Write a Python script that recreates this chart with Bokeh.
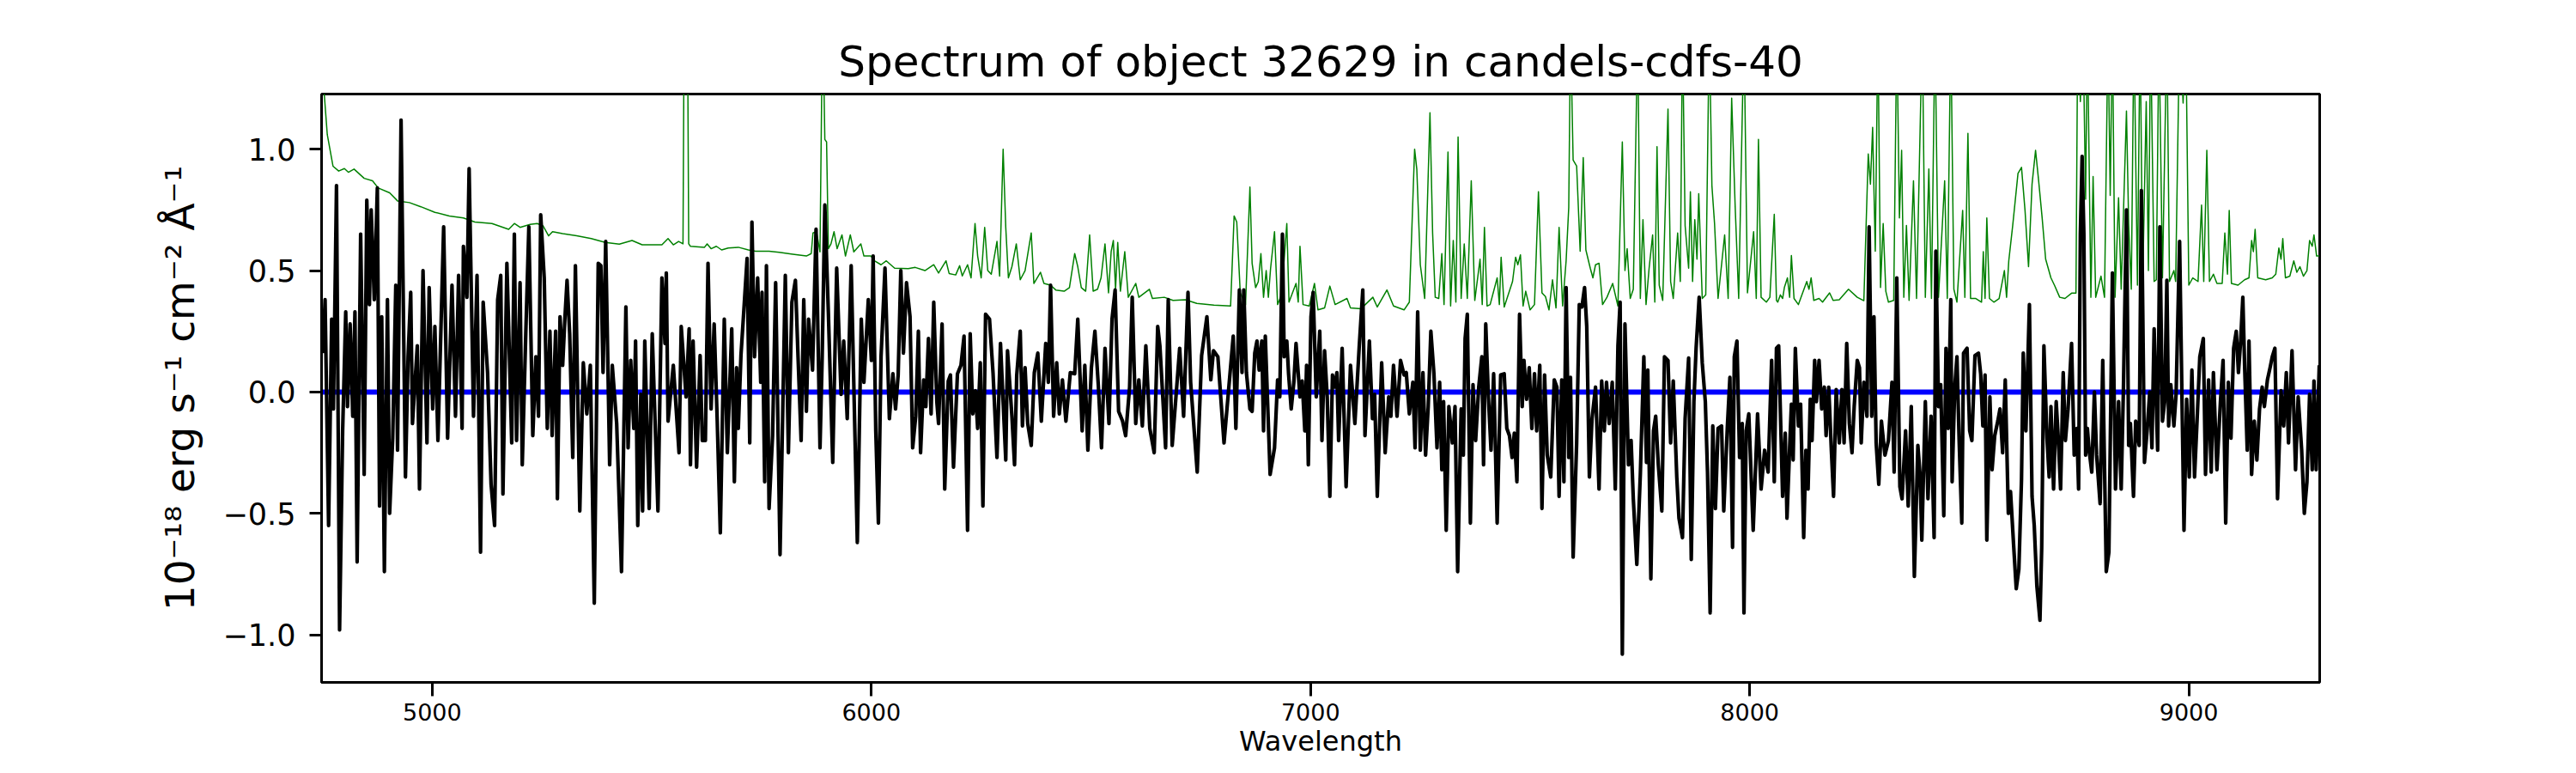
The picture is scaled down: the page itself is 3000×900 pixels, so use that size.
from bokeh.plotting import figure
from bokeh.models import ColumnDataSource, Span, FixedTicker, CustomJSTickFormatter, Range1d
from bokeh.embed import file_html
from bokeh.resources import INLINE

title_text = "Spectrum of object 32629 in candels-cdfs-40"
x_label = "Wavelength"
y_label = "10\u207b\u00b9\u2078 erg s\u207b\u00b9 cm\u207b\u00b2 \u00c5\u207b\u00b9"
x_ticks = [5000, 6000, 7000, 8000, 9000]
y_ticks = [-1.0, -0.5, 0.0, 0.5, 1.0]
x_limits = (4748, 9298)
y_limits = (-1.196, 1.227)
zero_level = 0.0

# object spectrum (black)
flux_points = [
(4751,0.16),(4756,0.38),(4764,-0.55),(4771,0.30),(4775,-0.07),(4782,0.85),(4789,-0.98),(4796,-0.16),(4803,0.33),(4807,-0.06),(4813,0.28),(4819,-0.10),(4824,0.33),(4829,-0.70),(4837,0.65),(4845,-0.34),(4851,0.79),(4857,0.36),(4861,0.75),(4868,0.38),(4875,0.84),(4880,-0.47),(4885,0.31),(4891,-0.74),(4898,0.38),(4903,-0.50),(4910,-0.19),(4917,0.44),(4921,-0.24),(4929,1.12),(4939,-0.35),(4945,0.145),(4951,0.41),(4955,-0.13),(4966,0.19),(4971,-0.40),(4979,0.50),(4988,-0.21),(4993,0.43),(5001,-0.07),(5006,0.27),(5013,-0.20),(5026,0.68),(5035,-0.19),(5045,0.44),(5053,-0.10),(5060,0.48),(5068,-0.15),(5071,0.60),(5079,0.39),(5084,0.92),(5094,-0.10),(5102,0.48),(5110,-0.66),(5116,0.37),(5126,0.08),(5134,-0.38),(5142,-0.55),(5149,0.38),(5156,0.48),(5161,-0.42),(5170,0.53),(5174,0.27),(5181,-0.21),(5187,0.65),(5192,-0.20),(5200,0.45),(5205,-0.30),(5213,0.24),(5220,0.68),(5229,-0.18),(5236,0.145),(5242,-0.10),(5247,0.73),(5255,0.47),(5262,-0.15),(5268,0.25),(5273,-0.18),(5281,0.25),(5285,-0.44),(5291,0.31),(5297,0.11),(5302,0.30),(5307,0.46),(5313,0.24),(5320,-0.27),(5326,0.52),(5336,-0.49),(5344,0.12),(5352,-0.09),(5360,0.11),(5369,-0.87),(5378,0.53),(5384,0.52),(5389,0.08),(5395,0.62),(5404,-0.30),(5410,0.11),(5420,-0.13),(5431,-0.74),(5441,0.35),(5446,-0.23),(5452,0.13),(5459,-0.15),(5463,0.21),(5468,-0.55),(5475,-0.01),(5479,-0.49),(5484,0.21),(5494,-0.48),(5501,0.24),(5514,-0.49),(5523,0.47),(5530,0.20),(5533,0.49),(5537,-0.12),(5549,0.11),(5562,-0.25),(5567,0.27),(5578,-0.02),(5585,0.26),(5588,-0.30),(5594,0.21),(5602,-0.31),(5610,0.15),(5615,-0.20),
(5622,-0.20),(5628,0.53),(5635,-0.07),(5642,0.28),(5649,-0.12),(5656,-0.58),(5665,0.30),(5672,-0.25),(5682,0.26),(5688,-0.37),(5693,0.10),(5697,-0.15),(5703,0.15),(5709,0.32),(5717,0.55),(5723,-0.21),(5728,0.70),(5734,0.145),(5741,0.47),(5748,0.04),(5751,0.41),(5757,-0.37),(5761,0.52),(5767,-0.48),(5775,-0.18),(5782,0.45),(5792,-0.67),(5804,0.48),(5811,-0.25),(5819,0.37),(5827,0.46),(5833,0.145),(5840,-0.20),(5846,0.38),(5852,-0.08),(5857,0.30),(5866,0.09),(5874,0.67),(5883,-0.23),(5888,0.145),(5894,0.77),(5902,0.33),(5912,-0.29),(5921,0.51),(5931,-0.01),(5937,0.21),(5945,-0.11),(5954,0.52),(5968,-0.62),(5977,0.30),(5983,0.04),(5993,0.38),(6000,0.13),(6004,0.56),(6010,-0.16),(6016,-0.54),(6022,0.145),(6031,0.51),(6041,-0.11),(6049,0.075),(6055,-0.07),(6061,0.07),(6067,0.50),(6073,0.16),(6080,0.45),(6088,0.31),(6094,-0.23),(6101,-0.10),(6107,0.25),(6112,-0.25),(6119,0.05),(6124,-0.06),(6130,0.22),(6136,-0.09),(6142,0.37),(6149,-0.04),(6153,-0.13),(6161,0.28),(6167,-0.40),(6175,0.045),(6180,0.07),(6187,-0.31),(6196,0.075),(6204,0.11),(6211,0.23),(6219,-0.57),(6225,0.24),(6231,-0.09),(6237,0.005),(6242,-0.15),(6248,0.12),(6254,-0.47),(6260,0.32),(6269,0.30),(6277,0.08),(6286,-0.27),(6294,0.20),(6306,-0.28),(6310,0.17),(6320,-0.10),(6326,-0.30),(6331,0.07),(6339,0.25),(6344,-0.14),(6350,0.10),(6356,-0.13),(6364,-0.22),(6371,0.08),(6379,0.16),(6387,-0.12),(6397,0.20),(6403,0.04),(6408,0.44),(6415,-0.10),(6422,0.12),(6428,-0.09),(6435,0.05),(6443,-0.12),(6453,0.08),(6463,0.075),(6470,0.30),(6480,-0.16),(6486,0.11),(6493,-0.24),(6501,0.10),(6509,0.25),(6517,0.02),(6524,-0.23),(6532,0.18),(6541,-0.13),(6548,0.30),(6555,0.42),(6563,-0.08),(6572,-0.12),(6579,-0.18),(6588,0.02),(6594,0.39),(6602,-0.13),(6609,0.05),(6617,-0.14),(6625,0.19),(6634,-0.15),(6644,-0.25),(6652,0.27),(6657,0.19),(6670,-0.23),(6676,0.38),(6685,-0.22),(6694,-0.01),(6702,0.18),(6711,-0.10),(6721,0.41),(6727,0.04),(6742,-0.33),(6752,0.15),(6764,0.31),(6773,0.05),(6779,0.17),(6789,0.145),(6803,-0.21),(6814,0.02),(6824,0.23),(6830,-0.15),
(6838,0.42),(6844,0.08),(6848,0.42),(6854,0.08),(6862,-0.07),(6867,-0.08),(6873,0.16),(6878,0.21),(6883,0.09),(6889,0.21),(6893,-0.16),(6897,0.23),(6908,-0.34),(6918,-0.23),(6925,0.05),(6930,-0.02),(6936,0.65),(6940,0.145),(6946,0.21),(6950,0.075),(6956,-0.07),(6962,0.04),(6967,0.20),(6976,-0.02),(6981,0.045),(6987,-0.16),(6991,0.11),(6995,-0.30),(7001,0.31),(7006,0.41),(7013,-0.02),(7021,0.25),(7026,-0.20),(7032,0.17),(7038,-0.02),(7044,-0.43),(7050,0.07),(7056,0.02),(7060,0.08),(7064,-0.20),(7072,0.18),(7081,-0.39),(7091,0.11),(7101,-0.13),(7111,0.19),(7119,0.42),(7124,-0.18),(7134,0.21),(7141,-0.11),(7146,-0.01),(7152,-0.43),(7162,0.12),(7170,-0.25),(7178,-0.02),(7183,-0.10),(7189,0.11),(7197,-0.10),(7205,0.13),(7213,0.07),(7218,0.08),(7225,-0.09),(7233,0.04),(7238,-0.23),(7244,0.33),(7250,-0.24),(7256,0.08),(7262,-0.26),(7268,-0.06),(7274,0.25),(7281,0.075),(7288,-0.23),(7294,0.04),(7299,-0.32),(7303,-0.04),(7309,-0.57),(7315,-0.06),(7323,-0.21),(7329,-0.06),(7335,-0.74),(7343,-0.07),(7348,-0.26),(7352,0.22),(7357,0.32),(7364,-0.54),(7370,0.03),(7376,-0.20),(7383,0.02),(7390,0.145),(7394,-0.30),(7399,0.28),(7405,-0.02),(7411,-0.24),(7417,0.075),(7425,-0.54),(7433,0.07),(7441,0.075),(7447,-0.15),(7453,-0.18),(7459,-0.27),(7464,-0.17),(7470,-0.37),(7476,0.32),(7482,-0.06),(7486,0.13),(7492,-0.03),(7498,0.10),(7504,-0.15),(7510,0.075),(7515,-0.16),(7522,0.11),(7527,-0.48),(7533,0.07),(7539,-0.26),(7547,-0.35),(7555,0.05),(7561,0.02),(7566,-0.43),(7572,0.05),(7577,-0.37),(7582,0.43),(7588,-0.27),(7592,0.06),(7598,-0.68),(7606,-0.21),(7612,0.36),(7618,0.35),(7624,0.43),(7629,0.27),(7635,-0.35),(7641,-0.11),(7649,0.02),(7657,-0.40),(7663,0.045),(7669,-0.16),(7674,0.04),(7680,-0.13),(7687,0.04),(7694,-0.40),(7700,0.19),(7705,0.37),(7710,-1.08),(7716,0.28),(7724,-0.30),(7730,-0.20),(7735,-0.44),(7743,-0.71),(7751,-0.34),(7759,0.145),(7765,-0.29),(7768,0.09),(7775,-0.77),(7781,-0.16),(7786,-0.10),(7792,-0.30),(7800,-0.49),(7806,0.145),(7814,0.13),(7820,-0.21),(7826,0.045),(7834,-0.35),(7839,-0.52),(7847,-0.60),(7853,-0.11),(7861,0.14),(7867,-0.69),(7873,-0.04),(7878,0.18),(7885,0.39),(7892,0.12),(7899,-0.04),(7904,-0.33),(7910,-0.91),(7916,-0.14),(7922,-0.48),(7928,-0.15),(7936,-0.14),(7941,-0.49),(7949,-0.15),(7955,0.06),(7961,-0.64),(7965,0.145),(7971,0.21),(7977,-0.27),(7983,-0.13),(7987,-0.91),(7992,-0.16),(7998,-0.09),(8008,-0.57),(8018,-0.09),(8026,-0.40),(8034,-0.24),(8042,-0.33),(8050,0.13),(8056,-0.37),(8061,0.18),
(8066,0.19),(8075,-0.43),(8081,-0.17),(8085,-0.52),(8091,-0.23),(8095,-0.05),(8099,-0.28),(8104,0.18),(8111,-0.14),(8116,-0.05),(8123,-0.60),(8128,-0.24),(8133,-0.40),(8138,-0.03),(8142,-0.20),(8148,0.13),(8152,-0.04),(8158,0.13),(8164,-0.07),(8170,0.02),(8174,-0.18),(8180,0.02),(8186,-0.24),(8191,-0.43),(8197,0.01),(8204,-0.21),(8210,0.01),(8215,-0.21),(8221,0.20),(8227,-0.13),(8233,-0.25),(8238,-0.06),(8245,0.13),(8250,0.10),(8254,-0.21),(8260,0.04),(8267,-0.10),(8272,0.68),(8278,-0.10),(8283,0.31),(8288,-0.21),(8294,-0.38),(8300,-0.12),(8308,-0.26),(8316,-0.20),(8324,0.04),(8329,-0.33),(8335,0.47),(8342,-0.39),(8347,-0.44),(8355,-0.16),(8361,-0.47),(8368,-0.06),(8375,-0.76),(8383,-0.22),(8388,-0.34),(8392,-0.61),(8400,-0.04),(8406,-0.44),(8413,-0.10),(8420,-0.60),(8424,0.58),(8430,-0.06),(8435,0.03),(8442,-0.51),(8447,0.18),(8452,-0.15),(8458,0.38),(8461,-0.37),(8467,0.02),(8472,0.145),(8477,-0.20),(8483,-0.54),(8487,0.16),(8495,0.18),(8501,-0.16),(8506,-0.20),(8513,0.15),(8521,0.16),(8526,0.075),(8531,-0.14),(8536,0.07),(8540,-0.61),(8547,-0.02),(8552,-0.32),(8558,-0.18),(8565,-0.12),(8570,-0.07),(8576,-0.25),(8582,0.05),(8589,-0.50),(8594,-0.41),(8601,-0.63),(8607,-0.81),(8613,-0.73),(8619,-0.36),(8623,0.16),(8629,-0.16),(8637,0.36),(8643,-0.43),(8648,-0.55),(8654,-0.80),(8661,-0.94),(8665,-0.64),(8670,0.19),(8677,-0.19),(8682,-0.35),(8686,-0.06),(8692,-0.40),(8698,-0.04),(8703,-0.20),(8708,-0.40),(8714,0.08),(8719,-0.20),(8725,-0.07),(8733,0.20),(8739,-0.26),(8745,-0.15),(8749,-0.40),(8753,0.65),(8757,0.97),(8761,0.65),(8765,-0.26),(8769,-0.15),(8773,-0.24),(8779,-0.33),(8785,0.00),(8790,-0.26),(8798,-0.46),(8804,0.13),(8812,-0.74),(8818,-0.66),(8826,0.49),(8833,-0.40),(8840,-0.04),(8846,-0.40),(8851,0.005),(8858,0.75),(8863,-0.22),(8867,-0.13),(8874,-0.43),(8879,-0.12),(8887,-0.22),(8892,0.83),(8899,-0.29),(8905,-0.16),(8911,0.00),(8916,-0.23),(8921,0.26),(8929,-0.24),(8934,0.68),(8940,-0.12),(8945,-0.04),(8950,0.46),(8954,-0.14),(8959,0.03),(8966,-0.14),(8971,-0.01),(8979,0.62),(8989,-0.57),(8995,-0.03),(9001,-0.35),(9007,0.09),(9013,-0.35),(9019,-0.11),(9025,0.145),(9033,0.22),(9038,-0.34),(9045,0.05),(9051,-0.33),(9056,0.08),(9064,-0.32),(9072,-0.04),(9078,0.13),(9084,-0.54),(9090,0.04),(9096,-0.19),(9102,0.18),(9108,0.25),(9113,0.08),(9118,0.21),(9123,0.39),(9127,0.11),(9133,-0.24),(9137,0.21),(9143,-0.34),(9149,-0.12),(9155,-0.28),(9161,-0.07),(9167,0.02),(9172,-0.06),(9179,0.05),(9185,0.10),(9190,0.145),(9196,0.18),(9202,-0.44),(9210,0.005),(9216,-0.14),(9222,0.08),(9227,-0.21),(9235,0.17),(9243,-0.32),(9249,-0.02),(9257,-0.24),(9263,-0.50),(9269,-0.37),(9275,-0.01),(9281,-0.32),(9285,0.045),(9290,-0.32),(9297,0.11),
]

# noise / sky spectrum (green)
noise_points = [
(4750,1.6),(4754,1.23),(4761,1.06),(4774,0.93),(4787,0.91),(4800,0.92),(4809,0.905),(4822,0.918),(4845,0.88),(4864,0.87),(4877,0.84),(4903,0.82),(4921,0.787),(4948,0.78),(4974,0.763),(5006,0.74),(5039,0.725),(5071,0.717),(5097,0.70),(5136,0.694),(5174,0.67),(5187,0.694),(5200,0.678),(5223,0.69),(5239,0.694),(5252,0.685),(5265,0.643),(5274,0.66),(5297,0.652),(5329,0.643),(5362,0.632),(5394,0.616),(5426,0.609),(5455,0.624),(5478,0.606),(5523,0.606),(5537,0.632),(5549,0.606),(5561,0.62),(5571,0.61),(5575,2.0),(5580,2.0),(5584,0.61),(5588,0.60),(5620,0.596),
(5626,0.61),(5635,0.59),(5647,0.60),(5659,0.585),(5674,0.593),(5697,0.596),(5720,0.585),(5736,0.58),(5767,0.58),(5790,0.575),(5821,0.567),(5852,0.56),(5863,0.57),(5867,0.655),(5875,0.66),(5883,0.577),(5889,1.6),(5894,1.04),(5898,1.03),(5902,0.59),(5908,0.61),(5915,0.66),(5922,0.59),(5933,0.647),(5941,0.56),(5952,0.647),(5960,0.577),(5976,0.61),(5983,0.56),(5999,0.56),(6007,0.54),(6022,0.524),(6034,0.54),(6053,0.51),(6084,0.508),(6100,0.513),(6122,0.50),(6142,0.524),(6153,0.49),(6170,0.54),(6177,0.488),(6192,0.482),(6201,0.52),(6207,0.478),(6219,0.524),(6227,0.47),(6236,0.694),(6242,0.56),(6250,0.47),(6258,0.678),(6265,0.50),(6273,0.485),(6286,0.62),(6292,0.477),(6300,1.0),(6306,0.678),(6312,0.47),(6320,0.516),(6330,0.61),(6339,0.462),(6350,0.50),(6364,0.655),(6370,0.447),(6385,0.493),(6393,0.447),(6408,0.44),(6420,0.42),(6439,0.415),(6451,0.43),(6463,0.57),(6470,0.516),(6478,0.43),(6488,0.415),(6497,0.647),(6505,0.415),(6515,0.423),(6523,0.47),(6532,0.61),(6540,0.408),(6546,0.578),(6551,0.624),(6556,0.423),(6561,0.616),(6567,0.415),(6577,0.578),(6585,0.39),(6602,0.447),(6609,0.39),(6633,0.423),(6640,0.385),(6667,0.39),(6687,0.377),(6715,0.38),(6741,0.365),(6780,0.358),(6818,0.354),(6826,0.725),(6832,0.70),
(6840,0.408),(6852,0.36),(6862,0.844),(6867,0.53),(6875,0.43),(6881,0.454),(6887,0.57),(6893,0.39),(6899,0.50),(6904,0.39),(6909,0.508),(6918,0.66),(6925,0.36),(6934,0.40),(6946,0.694),(6951,0.37),(6967,0.447),(6972,0.37),(6976,0.60),(6983,0.36),(6997,0.354),(7009,0.447),(7017,0.338),(7032,0.346),(7044,0.436),(7056,0.36),(7083,0.385),(7091,0.346),(7115,0.343),(7142,0.39),(7152,0.35),(7174,0.42),(7189,0.354),(7213,0.338),(7225,0.37),(7237,1.0),(7242,0.918),(7250,0.524),(7260,0.385),(7272,1.15),(7278,0.655),(7284,0.39),(7292,0.385),(7299,0.57),(7304,0.36),(7313,0.988),(7319,0.354),(7325,0.624),(7331,0.37),(7336,1.05),(7343,0.385),(7350,0.61),(7357,0.385),(7366,0.87),(7374,0.377),(7386,0.547),(7391,0.36),(7396,0.678),(7402,0.354),(7409,0.36),(7425,0.47),(7430,0.36),(7434,0.555),(7441,0.35),(7460,0.455),(7467,0.555),(7472,0.524),(7478,0.565),(7484,0.354),(7490,0.415),(7500,0.338),(7510,0.36),(7519,0.825),(7527,0.408),(7535,0.393),(7543,0.338),(7551,0.462),(7559,0.346),(7566,0.678),(7574,0.354),(7582,0.54),(7588,0.76),(7592,1.5),(7598,0.955),(7606,0.93),(7614,0.58),(7621,0.965),(7627,0.585),(7637,0.51),(7643,0.47),(7649,0.524),(7657,0.53),(7665,0.36),(7675,0.39),(7688,0.447),(7700,0.354),(7710,1.03),(7716,0.50),(7721,0.59),(7728,0.385),(7735,0.423),(7745,1.5),(7751,0.385),(7757,0.71),(7764,0.36),(7771,0.51),(7779,0.647),(7784,0.37),(7789,1.01),(7794,0.44),(7802,0.377),(7814,1.165),(7820,0.455),(7826,0.385),(7836,0.655),(7842,0.455),(7847,1.5),(7853,0.685),(7861,0.51),(7865,0.825),(7870,0.455),(7875,0.71),(7880,0.547),(7884,0.817),(7892,0.385),(7900,0.40),(7908,1.5),(7914,0.85),(7920,0.694),(7928,0.385),(7943,0.647),(7951,0.385),(7959,1.21),(7967,0.763),(7975,0.385),(7987,1.5),(7995,0.408),(8009,0.66),(8015,0.385),(8020,1.04),(8026,0.39),(8038,0.37),(8046,0.39),(8056,0.732),(8061,0.377),
(8064,0.37),(8070,0.40),(8075,0.385),(8079,0.43),(8086,0.47),(8091,0.39),(8095,0.562),(8101,0.385),(8111,0.36),(8130,0.455),(8135,0.423),(8140,0.47),(8146,0.377),(8158,0.385),(8166,0.37),(8182,0.408),(8190,0.377),(8204,0.38),(8225,0.423),(8245,0.39),(8260,0.376),(8270,0.98),(8275,0.856),(8280,1.09),(8286,0.58),(8292,1.5),(8298,0.43),(8304,0.694),(8310,0.415),(8316,0.37),(8328,0.377),(8335,1.5),(8341,0.717),(8346,0.995),(8351,0.39),(8357,0.686),(8363,0.377),(8373,0.87),(8380,0.385),(8393,1.5),(8400,0.39),(8408,0.918),(8414,0.385),(8422,1.5),(8430,0.39),(8444,0.87),(8450,0.385),(8458,1.5),(8465,0.423),(8472,0.37),(8485,0.748),(8490,0.39),(8497,1.065),(8503,0.385),(8515,0.385),(8528,0.37),(8532,0.578),(8536,0.385),(8540,0.717),(8546,0.385),(8556,0.37),(8568,0.385),(8580,0.50),(8585,0.39),(8590,0.54),(8599,0.686),(8611,0.90),(8619,0.925),(8627,0.748),(8635,0.516),(8643,0.856),(8651,0.995),(8658,0.87),(8666,0.717),(8674,0.547),(8686,0.47),(8694,0.44),(8706,0.39),(8718,0.385),(8733,0.407),(8743,0.407),(8747,1.5),(8753,1.196),(8759,1.5),(8765,0.794),(8769,1.5),(8777,0.39),(8782,0.887),(8788,0.39),(8800,0.477),(8808,0.39),(8816,1.5),(8821,0.81),(8826,1.5),(8832,0.39),(8840,0.80),(8846,0.423),(8858,1.157),(8863,0.694),(8869,0.423),(8875,1.5),(8883,0.44),(8889,1.5),(8895,0.455),(8903,1.196),(8908,0.50),(8913,1.5),(8921,0.455),(8926,0.462),(8932,1.5),(8940,0.47),(8950,1.5),(8956,0.455),(8966,0.50),(8970,0.455),(8979,1.5),(8987,1.19),(8993,1.5),(9000,0.44),(9009,0.47),(9021,0.455),(9029,0.77),(9034,0.455),(9041,0.995),(9047,0.455),(9056,0.485),(9064,0.447),(9076,0.447),(9082,0.655),(9088,0.485),(9092,0.748),(9097,0.447),(9112,0.44),(9127,0.462),(9137,0.47),(9143,0.624),(9147,0.578),(9151,0.67),(9157,0.47),(9175,0.462),(9190,0.47),(9198,0.485),(9205,0.593),(9210,0.547),(9214,0.632),(9220,0.47),(9230,0.477),(9239,0.54),(9246,0.493),(9253,0.516),(9261,0.477),(9269,0.50),(9275,0.624),(9281,0.60),(9285,0.647),(9291,0.56),(9297,0.56),
]

flux_wave = [w for w, _ in flux_points]
flux_vals = [f for _, f in flux_points]
noise_wave = [w for w, _ in noise_points]
noise_vals = [f for _, f in noise_points]

FONT = "DejaVu Sans"

p = figure(width=2984, height=884, output_backend="svg", toolbar_location=None,
           x_range=Range1d(*x_limits), y_range=Range1d(*y_limits),
           min_border_left=374, min_border_right=283, min_border_top=109, min_border_bottom=83)
p.background_fill_color = "white"
p.border_fill_color = "white"
p.outline_line_color = "black"
p.outline_line_width = 3
p.outline_line_alpha = 1.0
p.grid.visible = False

p.title.text = title_text
p.title.align = "center"
p.title.text_font = FONT
p.title.text_font_size = "50px"
p.title.text_font_style = "normal"
p.title.text_color = "black"
p.title.standoff = 18

noise_src = ColumnDataSource(dict(x=noise_wave, y=noise_vals))
flux_src = ColumnDataSource(dict(x=flux_wave, y=flux_vals))

zero = Span(location=zero_level, dimension="width", line_color="#0000ff", line_width=6, level="underlay")
p.add_layout(zero)
p.line("x", "y", source=noise_src, line_color="#008000", line_width=1.5, line_join="round")
p.line("x", "y", source=flux_src, line_color="black", line_width=4.2, line_join="round")

for ax in (p.xaxis[0], p.yaxis[0]):
    ax.axis_label_text_font = FONT
    ax.axis_label_text_font_style = "normal"
    ax.axis_label_text_color = "black"
    ax.major_label_text_font = FONT
    ax.major_label_text_color = "black"
    ax.major_tick_in = 0
    ax.minor_tick_out = 0
    ax.minor_tick_in = 0
    ax.major_tick_line_width = 3
    ax.major_tick_line_color = "black"
    ax.axis_line_width = 3
    ax.axis_line_color = "black"

xa = p.xaxis[0]
xa.ticker = FixedTicker(ticks=x_ticks)
xa.axis_label = x_label
xa.axis_label_text_font_size = "32px"
xa.axis_label_standoff = 2
xa.major_label_text_font_size = "27px"
xa.major_label_standoff = 8
xa.major_tick_out = 16

ya = p.yaxis[0]
ya.ticker = FixedTicker(ticks=y_ticks)
ya.formatter = CustomJSTickFormatter(code="return (tick < 0 ? '\u2212' : '') + Math.abs(tick).toFixed(1);")
ya.axis_label = y_label
ya.axis_label_text_font_size = "47px"
ya.axis_label_standoff = 20
ya.major_label_text_font_size = "35px"
ya.major_label_standoff = 16
ya.major_tick_out = 14

open("out.html", "w").write(file_html(p, INLINE))
